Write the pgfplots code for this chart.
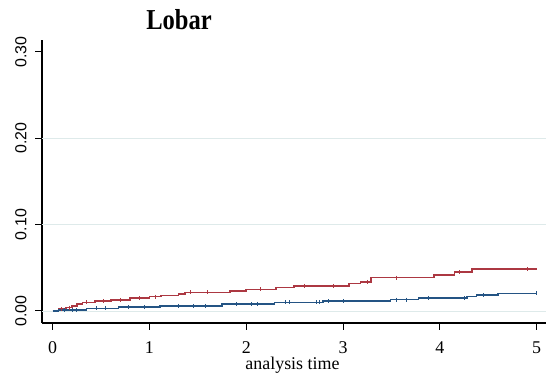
\documentclass[border=0pt]{standalone}
\usepackage{pgfplots}
\pgfplotsset{compat=1.18}
\usepackage{graphicx}
\usepackage{fontspec}
\setmainfont{Liberation Serif}
\newfontfamily\sansf{Liberation Sans}
\definecolor{kmred}{RGB}{172,56,66}
\definecolor{kmblue}{RGB}{36,84,132}
\definecolor{gridc}{RGB}{222,234,234}
\begin{document}
\begin{tikzpicture}
\useasboundingbox (-42bp,-52bp) rectangle (504bp,323bp);
\begin{axis}[
  at={(0,0)}, anchor=south west,
  scale only axis, width=504bp, height=283bp,
  xmin=-0.11, xmax=5.096, ymin=-0.0139, ymax=0.3137,
  axis lines=left, axis line style={-, line width=1.2bp, black},
  tick align=outside, major tick length=6.5bp,
  tick style={black, line width=1bp},
  xtick={0,1,2,3,4,5}, ytick={0,0.1,0.2,0.3},
  yticklabels={0.00,0.10,0.20,0.30},
  xticklabels={0,1,2,3,4,5},
  yticklabel shift=8.7bp, xticklabel shift=12bp,
  yticklabel style={rotate=90, anchor=south, inner sep=0pt, font=\sansf\fontsize{16}{16}\selectfont},
  xticklabel style={anchor=north, inner sep=0pt, font=\fontsize{18}{18}\selectfont},
  xlabel={analysis time},
  xlabel style={at={(axis description cs:0.497,0)}, anchor=base, yshift=-46.5bp, inner sep=0pt, font=\fontsize{18}{18}\selectfont},
  clip=false,
]
\addplot[gridc, line width=0.9bp, forget plot] coordinates {(-0.11,0) (5.096,0)};
\addplot[gridc, line width=0.9bp, forget plot] coordinates {(-0.11,0.1) (5.096,0.1)};
\addplot[gridc, line width=0.9bp, forget plot] coordinates {(-0.11,0.2) (5.096,0.2)};
% red curve
\addplot[kmred, line width=1.6bp, const plot mark left] coordinates {
(0,0) (0.06,0.002) (0.14,0.004) (0.20,0.006) (0.25,0.008) (0.31,0.010)
(0.44,0.0115) (0.60,0.013) (0.80,0.0148) (1.00,0.0166) (1.12,0.018)
(1.30,0.0196) (1.37,0.0216) (1.83,0.023) (2.00,0.025) (2.31,0.027)
(2.49,0.029) (3.06,0.032) (3.18,0.0336) (3.29,0.0386) (3.94,0.042)
(4.15,0.045) (4.33,0.0484) (5.00,0.0484)};
\addplot[kmred, only marks, mark=|, mark size=2bp, mark options={line width=0.8bp}] coordinates {
(0.09,0.002) (0.17,0.004) (0.35,0.010) (0.52,0.0115) (0.70,0.013) (0.90,0.0148)
(1.06,0.0166) (1.42,0.0216) (1.6,0.0216) (2.15,0.025) (2.6,0.029) (2.9,0.029)
(3.25,0.0336) (3.55,0.0386) (4.2,0.045) (4.9,0.0484)};
% blue curve
\addplot[kmblue, line width=1.6bp, const plot mark left] coordinates {
(0,0) (0.06,0.001) (0.35,0.003) (0.68,0.0043) (1.11,0.006) (1.75,0.008)
(2.29,0.010) (2.79,0.0113) (3.49,0.0132) (3.78,0.0149) (4.28,0.0166)
(4.38,0.0184) (4.60,0.0204) (5.00,0.0204)};
\addplot[kmblue, only marks, mark=|, mark size=2bp, mark options={line width=0.8bp}] coordinates {
(0.12,0.001) (0.2,0.001) (0.25,0.001) (0.45,0.003) (0.55,0.003) (0.78,0.0043)
(0.95,0.0043) (1.3,0.006) (1.45,0.006) (1.58,0.006) (1.9,0.008) (2.05,0.008)
(2.12,0.008) (2.4,0.010) (2.45,0.010) (2.72,0.010) (2.76,0.010) (2.85,0.0113)
(3.0,0.0113) (3.55,0.0132) (3.65,0.0132) (3.88,0.0149) (4.25,0.0149)
(4.45,0.0184) (5.0,0.0204)};
\end{axis}
\node[anchor=base, inner sep=0pt] at (137bp,293.7bp) {\scalebox{0.85}[1]{\fontsize{29}{29}\selectfont\bfseries Lobar}};
\end{tikzpicture}
\end{document}
